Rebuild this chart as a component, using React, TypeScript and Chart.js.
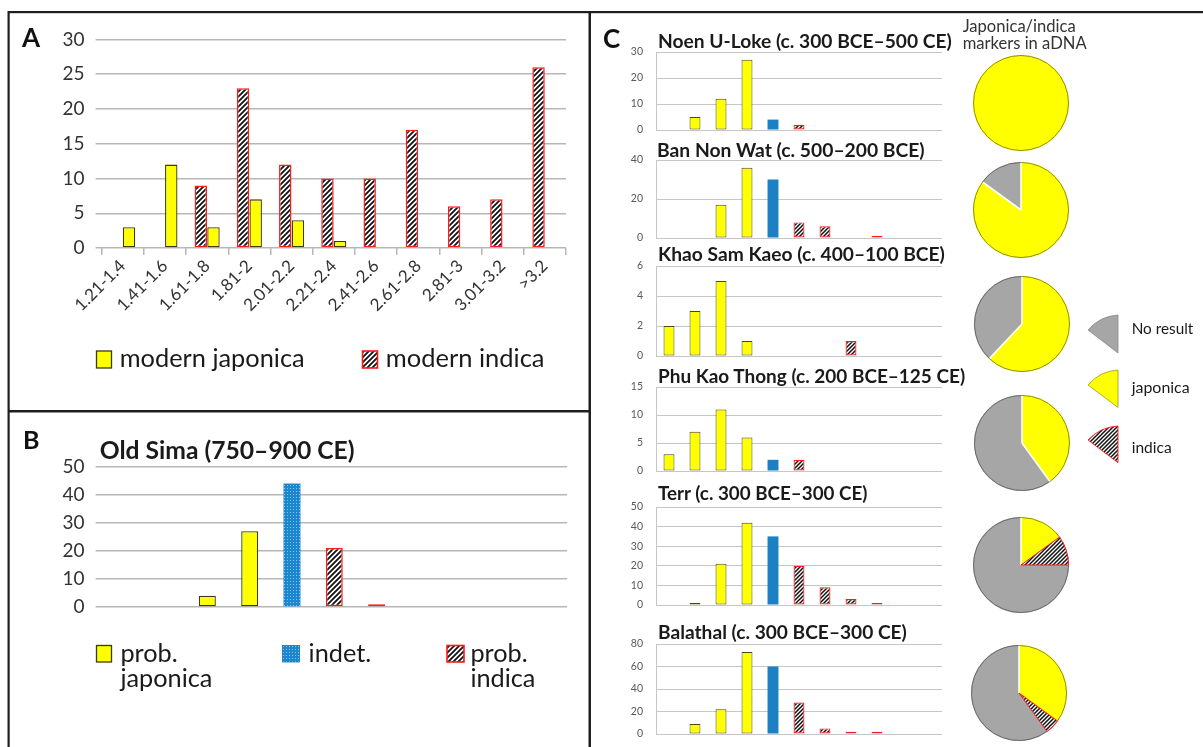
import React, { useEffect, useRef } from 'react';
import { Chart, registerables } from 'chart.js';

Chart.register(...registerables);

const FAMILY = 'Lato, "Open Sans", "DejaVu Sans", sans-serif';

// ---------- Panel A: modern reference grains ----------
const sizeClasses = ['1.21-1.4', '1.41-1.6', '1.61-1.8', '1.81-2', '2.01-2.2', '2.21-2.4', '2.41-2.6', '2.61-2.8', '2.81-3', '3.01-3.2', '>3.2'];
const modernJaponica = [3, 12, 3, 7, 4, 1, null, null, null, null, null];
const modernIndica = [null, null, 9, 23, 12, 10, 10, 17, 6, 7, 26];
const aYMax = 30;
const aYStep = 5;

// ---------- Panel B: Old Sima ----------
const simaJaponica = [null, null, 4, 27, null, null, null, null, null, null, null];
const simaIndet = [null, null, null, null, 44, null, null, null, null, null, null];
const simaIndica = [null, null, null, null, null, 21, 1, null, null, null, null];
const bYMax = 50;
const bYStep = 10;

// ---------- Panel C: archaeological sites ----------
const siteTitles = [
  'Noen U-Loke (c. 300 BCE–500 CE)',
  'Ban Non Wat (c. 500–200 BCE)',
  'Khao Sam Kaeo (c. 400–100 BCE)',
  'Phu Kao Thong (c. 200 BCE–125 CE)',
  'Terr (c. 300 BCE–300 CE)',
  'Balathal (c. 300 BCE–300 CE)',
];
const siteYMax = [30, 40, 6, 15, 50, 80];
const siteYStep = [10, 20, 2, 5, 10, 20];

const noenJaponica = [null, 5, 12, 27, null, null, null, null, null, null, null];
const noenIndet = [null, null, null, null, 4, null, null, null, null, null, null];
const noenIndica = [null, null, null, null, null, 2, null, null, null, null, null];

const banNonWatJaponica = [null, null, 17, 36, null, null, null, null, null, null, null];
const banNonWatIndet = [null, null, null, null, 30, null, null, null, null, null, null];
const banNonWatIndica = [null, null, null, null, null, 8, 6, null, 1, null, null];

const khaoJaponica = [2, 3, 5, 1, null, null, null, null, null, null, null];
const khaoIndet = [null, null, null, null, null, null, null, null, null, null, null];
const khaoIndica = [null, null, null, null, null, null, null, 1, null, null, null];

const phuJaponica = [3, 7, 11, 6, null, null, null, null, null, null, null];
const phuIndet = [null, null, null, null, 2, null, null, null, null, null, null];
const phuIndica = [null, null, null, null, null, 2, null, null, null, null, null];

const terrJaponica = [null, 1, 21, 42, null, null, null, null, null, null, null];
const terrIndet = [null, null, null, null, 35, null, null, null, null, null, null];
const terrIndica = [null, null, null, null, null, 20, 9, 3, 1, null, null];

const balathalJaponica = [null, 9, 22, 73, null, null, null, null, null, null, null];
const balathalIndet = [null, null, null, null, 60, null, null, null, null, null, null];
const balathalIndica = [null, null, null, null, null, 28, 5, 2, 2, null, null];

const siteJaponica = [noenJaponica, banNonWatJaponica, khaoJaponica, phuJaponica, terrJaponica, balathalJaponica];
const siteIndet = [noenIndet, banNonWatIndet, khaoIndet, phuIndet, terrIndet, balathalIndet];
const siteIndica = [noenIndica, banNonWatIndica, khaoIndica, phuIndica, terrIndica, balathalIndica];

// ---------- aDNA marker pies (order: japonica, indica, no result) ----------
const markerLabels = ['japonica', 'indica', 'No result'];
const noenMarkers = [100, 0, 0];
const banNonWatMarkers = [85, 0, 15];
const khaoMarkers = [62, 0, 38];
const phuMarkers = [40, 0, 60];
const terrMarkers = [15, 10, 75];
const balathalMarkers = [35, 5, 60];
const siteMarkers = [noenMarkers, banNonWatMarkers, khaoMarkers, phuMarkers, terrMarkers, balathalMarkers];

// ---------- layout (page pixels) ----------
const cPlots = [
  [51.7, 129.3],
  [160.3, 238.3],
  [265.7, 356],
  [387.3, 471.7],
  [506.7, 604.3],
  [644, 733.7],
];
const cTitlePos = [
  [658, 47.7, 294],
  [657, 156.7, 268],
  [658, 261, 287],
  [658, 382.7, 308],
  [658, 500, 210],
  [658, 639.3, 249],
];
const pieCenters = [
  [1020.7, 103.3],
  [1020.7, 210],
  [1021.7, 324],
  [1021.7, 442.7],
  [1021, 565],
  [1019.3, 693.3],
];
const PIE_R = 48;
const C_PAD = 24;

const YELLOW = '#ffff00';
const YELLOW_EDGE = '#3b3b10';
const RED = '#ff1a1a';
const BLUE = '#1b80c4';
const GRAY = '#a6a6a6';
const PIE_EDGES = ['#8f8f10', RED, '#6a6a6a'];

function hatchPattern(period: number, lw: number): CanvasPattern {
  const c = document.createElement('canvas');
  c.width = period;
  c.height = period;
  const x = c.getContext('2d') as CanvasRenderingContext2D;
  x.fillStyle = '#ffffff';
  x.fillRect(0, 0, period, period);
  x.strokeStyle = '#111111';
  x.lineWidth = lw;
  x.beginPath();
  x.moveTo(-1, period + 1);
  x.lineTo(period + 1, -1);
  x.moveTo(-1, 1);
  x.lineTo(1, -1);
  x.moveTo(period - 1, period + 1);
  x.lineTo(period + 1, period - 1);
  x.stroke();
  return x.createPattern(c, 'repeat') as CanvasPattern;
}

function dotPattern(): CanvasPattern {
  const c = document.createElement('canvas');
  c.width = 3;
  c.height = 3;
  const x = c.getContext('2d') as CanvasRenderingContext2D;
  x.fillStyle = '#1c86cf';
  x.fillRect(0, 0, 3, 3);
  x.fillStyle = '#86c5ef';
  x.fillRect(1, 1, 1, 1);
  return x.createPattern(c, 'repeat') as CanvasPattern;
}

let measureCtx: CanvasRenderingContext2D | null = null;
function fitSize(text: string, weight: number, target: number): number {
  if (!measureCtx) measureCtx = document.createElement('canvas').getContext('2d');
  const ctx = measureCtx as CanvasRenderingContext2D;
  ctx.font = `${weight} 100px ${FAMILY}`;
  const w = ctx.measureText(text).width;
  return (100 * target) / w;
}

function makeBar(canvas: HTMLCanvasElement, s: any) {
  return new Chart(canvas, {
    type: 'bar',
    data: { labels: s.labels, datasets: s.datasets },
    options: {
      responsive: false,
      animation: false,
      events: [],
      layout: { padding: { top: s.padTop, right: s.padRight, left: 0, bottom: 0 } },
      plugins: { legend: { display: false }, tooltip: { enabled: false } },
      scales: {
        x: {
          stacked: s.stacked,
          offset: true,
          grid: {
            display: s.xTickMarks,
            offset: true,
            drawOnChartArea: false,
            drawTicks: true,
            tickLength: 7,
            color: s.gridColor,
            lineWidth: s.gridWidth,
          },
          border: { display: false },
          ticks: {
            display: s.xTicks,
            autoSkip: false,
            maxRotation: 45,
            minRotation: 45,
            padding: 1,
            color: '#333333',
            font: { family: FAMILY, size: s.xFont || 12 },
          },
          afterFit: (sc: any) => {
            sc.height = s.xHeight;
          },
        },
        y: {
          stacked: s.stacked,
          min: 0,
          max: s.yMax,
          ticks: {
            stepSize: s.yStep,
            padding: s.yPad,
            color: s.yColor,
            font: { family: FAMILY, size: s.yFont },
          },
          grid: {
            color: s.gridColor,
            lineWidth: s.gridWidth,
            drawTicks: s.yTickLen > 0,
            tickLength: s.yTickLen,
          },
          border: { display: s.yBorder, color: s.gridColor, width: s.gridWidth },
          afterFit: (sc: any) => {
            sc.width = s.yWidth;
          },
        },
      },
    } as any,
  });
}

// Draws the slice outlines: coloured rims, red edges around the indica slice,
// and white separators between the other slices.
const pieOutlines = {
  id: 'pieOutlines',
  afterDatasetsDraw(chart: any) {
    const values = chart.data.datasets[0].data as number[];
    const meta = chart.getDatasetMeta(0);
    const nz = values.map((_v, i) => i).filter((i) => values[i] > 0);
    const ctx = chart.ctx;
    ctx.save();
    ctx.lineCap = 'butt';
    nz.forEach((i) => {
      const p = meta.data[i].getProps(['x', 'y', 'startAngle', 'endAngle', 'outerRadius'], true);
      ctx.strokeStyle = PIE_EDGES[i];
      ctx.lineWidth = 1;
      ctx.beginPath();
      ctx.arc(p.x, p.y, p.outerRadius - 0.5, p.startAngle, p.endAngle);
      ctx.stroke();
    });
    if (nz.length > 1) {
      nz.forEach((i, k) => {
        const prev = nz[(k - 1 + nz.length) % nz.length];
        const p = meta.data[i].getProps(['x', 'y', 'startAngle', 'endAngle', 'outerRadius'], true);
        const r = p.outerRadius - 0.5;
        if (i === 1) {
          ctx.strokeStyle = RED;
          ctx.lineWidth = 1;
          ctx.beginPath();
          ctx.moveTo(p.x + Math.cos(p.startAngle) * r, p.y + Math.sin(p.startAngle) * r);
          ctx.lineTo(p.x, p.y);
          ctx.lineTo(p.x + Math.cos(p.endAngle) * r, p.y + Math.sin(p.endAngle) * r);
          ctx.stroke();
          return;
        }
        if (prev === 1) return;
        ctx.strokeStyle = '#ffffff';
        ctx.lineWidth = 1.6;
        ctx.beginPath();
        ctx.moveTo(p.x, p.y);
        ctx.lineTo(p.x + Math.cos(p.startAngle) * (r - 0.3), p.y + Math.sin(p.startAngle) * (r - 0.3));
        ctx.stroke();
      });
    }
    ctx.restore();
  },
};

function makePie(canvas: HTMLCanvasElement, data: number[], hatch: CanvasPattern) {
  return new Chart(canvas, {
    type: 'pie',
    data: {
      labels: markerLabels,
      datasets: [
        {
          data,
          backgroundColor: [YELLOW, hatch, GRAY],
          borderWidth: 0,
        },
      ],
    },
    options: {
      responsive: false,
      animation: false,
      events: [],
      layout: { padding: 0 },
      plugins: { legend: { display: false }, tooltip: { enabled: false } },
    } as any,
    plugins: [pieOutlines as any],
  });
}

type TxtProps = { text: string; x: number; y: number; width?: number; size?: number; weight?: number; color?: string };
function Txt({ text, x, y, width, size, weight = 400, color = '#1a1a1a' }: TxtProps) {
  const fs = size || fitSize(text, weight, width || 50);
  return (
    <text x={x} y={y} fontSize={fs} fontWeight={weight} fill={color} fontFamily={FAMILY}>
      {text}
    </text>
  );
}

export default function App() {
  const refA = useRef<HTMLCanvasElement>(null);
  const refB = useRef<HTMLCanvasElement>(null);
  const refsC = useRef<(HTMLCanvasElement | null)[]>([]);
  const refsP = useRef<(HTMLCanvasElement | null)[]>([]);

  useEffect(() => {
    Chart.defaults.font.family = FAMILY;
    const charts: Chart[] = [];
    const hatch5 = hatchPattern(5, 1.8);
    const hatch4 = hatchPattern(4, 1.5);
    const dots = dotPattern();

    if (refA.current) {
      charts.push(
        makeBar(refA.current, {
          labels: sizeClasses,
          stacked: false,
          datasets: [
            {
              label: 'modern indica',
              data: modernIndica,
              backgroundColor: hatch5,
              borderColor: RED,
              borderWidth: 1.5,
              borderSkipped: false,
              categoryPercentage: 0.6,
              barPercentage: 0.98,
            },
            {
              label: 'modern japonica',
              data: modernJaponica,
              backgroundColor: YELLOW,
              borderColor: YELLOW_EDGE,
              borderWidth: 1.3,
              borderSkipped: false,
              categoryPercentage: 0.6,
              barPercentage: 0.98,
            },
          ],
          yMax: aYMax,
          yStep: aYStep,
          padTop: 24.5,
          padRight: 14,
          yWidth: 61.6,
          xHeight: 102,
          yFont: 19,
          yColor: '#333333',
          yPad: 11,
          yTickLen: 6,
          yBorder: false,
          gridColor: '#b7b7b7',
          gridWidth: 1.5,
          xTicks: true,
          xFont: 17,
          xTickMarks: true,
        })
      );
    }

    if (refB.current) {
      charts.push(
        makeBar(refB.current, {
          labels: sizeClasses,
          stacked: true,
          datasets: [
            { label: 'prob. japonica', data: simaJaponica, backgroundColor: YELLOW, borderColor: YELLOW_EDGE, borderWidth: 1.3, borderSkipped: false, categoryPercentage: 1, barPercentage: 0.4 },
            { label: 'indet.', data: simaIndet, backgroundColor: dots, borderColor: '#1c86cf', borderWidth: 0, borderSkipped: false, categoryPercentage: 1, barPercentage: 0.4 },
            { label: 'prob. indica', data: simaIndica, backgroundColor: hatch5, borderColor: RED, borderWidth: 1.5, borderSkipped: false, categoryPercentage: 1, barPercentage: 0.4 },
          ],
          yMax: bYMax,
          yStep: bYStep,
          padTop: 24.7,
          padRight: 13,
          yWidth: 61.6,
          xHeight: 24,
          yFont: 19,
          yColor: '#333333',
          yPad: 11,
          yTickLen: 6,
          yBorder: false,
          gridColor: '#b7b7b7',
          gridWidth: 1.5,
          xTicks: false,
          xTickMarks: false,
        })
      );
    }

    siteTitles.forEach((_t, i) => {
      const cv = refsC.current[i];
      if (!cv) return;
      charts.push(
        makeBar(cv, {
          labels: sizeClasses,
          stacked: true,
          datasets: [
            { label: 'japonica', data: siteJaponica[i], backgroundColor: YELLOW, borderColor: '#4a4a10', borderWidth: 1, borderSkipped: false, categoryPercentage: 1, barPercentage: 0.42 },
            { label: 'indet.', data: siteIndet[i], backgroundColor: BLUE, borderColor: BLUE, borderWidth: 0, borderSkipped: false, categoryPercentage: 1, barPercentage: 0.42 },
            { label: 'indica', data: siteIndica[i], backgroundColor: hatch4, borderColor: RED, borderWidth: 1.2, borderSkipped: false, categoryPercentage: 1, barPercentage: 0.42 },
          ],
          yMax: siteYMax[i],
          yStep: siteYStep[i],
          padTop: C_PAD,
          padRight: 10,
          yWidth: 56,
          xHeight: C_PAD,
          yFont: 10.5,
          yColor: '#595959',
          yPad: 13,
          yTickLen: 0,
          yBorder: true,
          gridColor: '#c6c6c6',
          gridWidth: 1,
          xTicks: false,
          xTickMarks: false,
        })
      );
    });

    siteMarkers.forEach((d, i) => {
      const cv = refsP.current[i];
      if (!cv) return;
      charts.push(makePie(cv, d, hatch4));
    });

    return () => {
      charts.forEach((c) => c.destroy());
    };
  }, []);

  const pieSize = PIE_R * 2;
  const jpSize = fitSize('japonica', 400, 92);
  const markSize = fitSize('markers in aDNA', 400, 124);

  return (
    <div style={{ position: 'absolute', left: 0, top: 0, width: 1203, height: 747, background: '#ffffff', overflow: 'hidden', fontFamily: FAMILY }}>
      <canvas ref={refA} width={540} height={335} style={{ position: 'absolute', left: 40, top: 15, width: 540, height: 335 }} />
      <canvas ref={refB} width={540} height={189} style={{ position: 'absolute', left: 40, top: 442, width: 540, height: 189 }} />
      {cPlots.map(([t, b], i) => {
        const h = b - t + 2 * C_PAD;
        return (
          <canvas
            key={'c' + i}
            ref={(el) => {
              refsC.current[i] = el;
            }}
            width={352}
            height={Math.round(h)}
            style={{ position: 'absolute', left: 600, top: t - C_PAD, width: 352, height: Math.round(h) }}
          />
        );
      })}
      {pieCenters.map(([cx, cy], i) => (
        <canvas
          key={'p' + i}
          ref={(el) => {
            refsP.current[i] = el;
          }}
          width={pieSize}
          height={pieSize}
          style={{ position: 'absolute', left: cx - pieSize / 2, top: cy - pieSize / 2, width: pieSize, height: pieSize }}
        />
      ))}

      <svg width={1203} height={747} style={{ position: 'absolute', left: 0, top: 0, pointerEvents: 'none' }}>
        <defs>
          <pattern id="hatchA" width="5" height="5" patternUnits="userSpaceOnUse">
            <rect width="5" height="5" fill="#ffffff" />
            <path d="M-1,6 L6,-1 M-1,1 L1,-1 M4,6 L6,4" stroke="#111111" strokeWidth="1.8" />
          </pattern>
          <pattern id="hatchS" width="4" height="4" patternUnits="userSpaceOnUse">
            <rect width="4" height="4" fill="#ffffff" />
            <path d="M-1,5 L5,-1 M-1,1 L1,-1 M3,5 L5,3" stroke="#111111" strokeWidth="1.5" />
          </pattern>
          <pattern id="dotsB" width="3" height="3" patternUnits="userSpaceOnUse">
            <rect width="3" height="3" fill="#1c86cf" />
            <rect x="1" y="1" width="1" height="1" fill="#86c5ef" />
          </pattern>
        </defs>

        {/* panel frames */}
        <rect x={8} y={11} width={1195} height={2.2} fill="#1e1e1e" />
        <rect x={7.5} y={11} width={2.2} height={736} fill="#1e1e1e" />
        <rect x={588.5} y={11} width={2.5} height={736} fill="#1e1e1e" />
        <rect x={8} y={410} width={582} height={2.5} fill="#1e1e1e" />

        {/* panel letters */}
        <Txt text="A" x={22} y={47} size={26} weight={700} color="#111" />
        <Txt text="B" x={23} y={449} size={25} weight={700} color="#111" />
        <Txt text="C" x={603} y={48} size={26} weight={700} color="#111" />

        {/* legend A */}
        <rect x={96.5} y={351} width={15} height={17} fill={YELLOW} stroke={YELLOW_EDGE} strokeWidth={1.3} />
        <Txt text="modern japonica" x={119.7} y={366.7} width={185} />
        <rect x={362.5} y={351} width={15} height={17} fill="url(#hatchA)" stroke={RED} strokeWidth={1.6} />
        <Txt text="modern indica" x={385.8} y={366.7} width={158.8} />

        {/* panel B title + legend */}
        <Txt text="Old Sima (750–900 CE)" x={99.7} y={458.5} width={255} weight={700} />
        <rect x={96.5} y={645.5} width={15} height={16.5} fill={YELLOW} stroke={YELLOW_EDGE} strokeWidth={1.3} />
        <Txt text="prob." x={120.4} y={662} size={jpSize} />
        <Txt text="japonica" x={120.4} y={687} size={jpSize} />
        <rect x={282.5} y={645.5} width={17} height={16.5} fill="url(#dotsB)" stroke="#1a70b0" strokeWidth={0.8} />
        <Txt text="indet." x={308.6} y={662} size={jpSize} />
        <rect x={447} y={645.5} width={17} height={16.5} fill="url(#hatchA)" stroke={RED} strokeWidth={1.6} />
        <Txt text="prob." x={470.4} y={662} size={jpSize} />
        <Txt text="indica" x={470.4} y={687} size={jpSize} />

        {/* panel C titles */}
        {siteTitles.map((t, i) => (
          <Txt key={'t' + i} text={t} x={cTitlePos[i][0]} y={cTitlePos[i][1]} width={cTitlePos[i][2]} weight={700} />
        ))}

        {/* pie header + legend */}
        <Txt text="Japonica/indica" x={962.7} y={31.5} size={markSize} color="#333" />
        <Txt text="markers in aDNA" x={962.7} y={48.5} size={markSize} color="#333" />

        <path d="M1088,330 L1118,353 L1118,315 Q1100,316 1088,330 Z" fill={GRAY} stroke="#8a8a8a" strokeWidth={0.8} />
        <Txt text="No result" x={1131.7} y={334} width={61.6} />
        <path d="M1088,385 L1118,407.5 L1118,370 Q1100,371 1088,385 Z" fill={YELLOW} stroke="#9a9a20" strokeWidth={0.8} />
        <Txt text="japonica" x={1131.7} y={392.7} width={58} />
        <path d="M1088,440 L1118,462.7 L1118,426 Q1100,427 1088,440 Z" fill="url(#hatchS)" stroke={RED} strokeWidth={0.9} />
        <Txt text="indica" x={1131.7} y={453.3} width={40} />
      </svg>
    </div>
  );
}
